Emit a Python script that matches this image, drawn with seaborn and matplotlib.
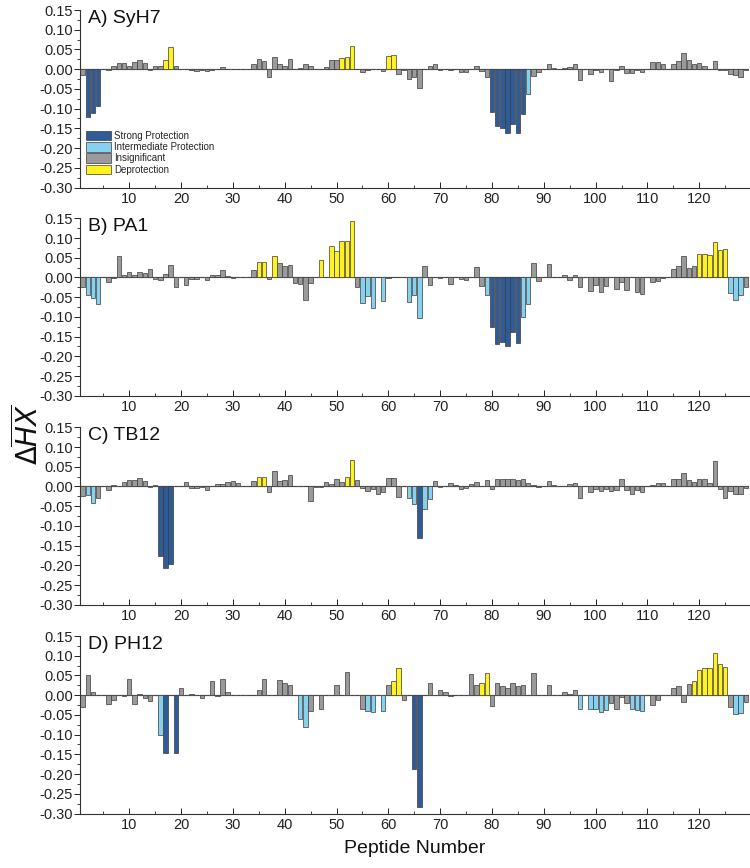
import numpy as np
import pandas as pd
import matplotlib
matplotlib.use("Agg")
import matplotlib.pyplot as plt
from matplotlib.ticker import MultipleLocator, FormatStrFormatter
import seaborn as sns

peptides = list(range(1, 130))
panel_titles = ["A) SyH7", "B) PA1", "C) TB12", "D) PH12"]
categories = ["Strong Protection", "Intermediate Protection", "Insignificant", "Deprotection"]
colors = ["#2F5C97", "#86D0F0", "#9A9A9A", "#FFF21F"]

syh7 = [-0.014, -0.121, -0.111, -0.093, 0, -0.001, 0.008, 0.015, 0.016, 0.007,
        0.019, 0.022, 0.016, -0.002, 0.009, 0.007, 0.022, 0.057, 0.007, 0,
        0.001, -0.003, -0.005, -0.003, -0.004, -0.002, 0, 0.006, 0, 0.001,
        0.001, 0, 0, 0.013, 0.027, 0.021, -0.019, 0.031, 0.013, 0.009,
        0.025, 0, 0.004, 0.012, 0.007, 0.001, 0, 0.006, 0.022, 0.022,
        0.028, 0.032, 0.058, 0, -0.006, -0.003, 0, 0, -0.004, 0.033,
        0.035, -0.011, -0.001, -0.026, -0.019, -0.047, 0, 0.008, 0.012, -0.002,
        0.001, -0.002, 0, -0.006, -0.008, 0, 0.009, -0.004, -0.019, -0.108,
        -0.145, -0.148, -0.161, -0.139, -0.161, -0.114, -0.064, -0.017, -0.006, 0,
        0.014, 0.004, 0, 0.004, 0.006, 0.014, -0.028, 0, -0.011, -0.001,
        -0.008, 0, -0.030, -0.002, 0.009, -0.010, -0.010, -0.003, -0.008, 0,
        0.019, 0.018, 0.012, 0, 0.014, 0.020, 0.040, 0.023, 0.013, 0.015,
        0.007, 0, 0.020, -0.003, -0.003, -0.011, -0.015, -0.020, -0.002]
pa1 = [-0.023, -0.044, -0.052, -0.067, 0, -0.012, -0.001, 0.055, 0.007, 0.013,
       0.007, 0.013, 0.011, 0.022, -0.003, -0.006, 0.009, 0.032, -0.025, 0,
       -0.020, -0.004, -0.004, 0, -0.006, 0.007, 0.007, 0.018, 0.004, -0.001,
       0.001, 0, 0, 0.018, 0.040, 0.040, -0.005, 0.055, 0.036, 0.028,
       0.032, -0.014, -0.017, -0.056, -0.014, 0, 0.044, 0, 0.080, 0.066,
       0.092, 0.092, 0.143, -0.024, -0.065, -0.046, -0.078, 0, -0.059, -0.002,
       0, 0.001, 0.001, -0.062, -0.045, -0.102, 0.029, -0.019, 0.001, -0.002,
       0.001, -0.016, 0.002, -0.004, -0.006, 0.001, 0.026, -0.021, -0.044, -0.126,
       -0.168, -0.163, -0.174, -0.138, -0.167, -0.100, -0.067, 0.036, -0.010, 0,
       0.034, 0, 0, 0.006, -0.006, 0.006, -0.024, 0, -0.035, -0.019,
       -0.036, -0.022, 0, -0.029, -0.012, -0.032, 0, -0.038, -0.042, 0,
       -0.012, -0.008, -0.002, 0, 0.021, 0.029, 0.055, 0.025, 0.029, 0.059,
       0.059, 0.056, 0.089, 0.069, 0.072, -0.040, -0.056, -0.044, -0.024]
tb12 = [-0.024, -0.022, -0.043, -0.028, 0, -0.008, 0.003, 0, 0.012, 0.016,
        0.017, 0.021, 0.013, -0.002, 0.003, -0.177, -0.206, -0.197, 0, 0,
        0.012, -0.003, -0.003, -0.001, -0.009, 0, 0.006, 0.006, 0.011, 0.015,
        0.010, 0, 0, 0.014, 0.025, 0.025, -0.013, 0.040, 0.014, 0.017,
        0.030, 0, 0.001, 0, -0.038, -0.001, -0.002, 0.011, 0.007, 0.019,
        0.011, 0.024, 0.068, 0.017, -0.005, -0.011, -0.006, -0.019, -0.015, 0.021,
        0.022, -0.026, 0, -0.028, -0.044, -0.130, -0.058, -0.031, 0.014, -0.002,
        0, 0.008, 0.004, -0.006, -0.005, 0.006, 0.012, 0, 0.017, -0.006,
        0.019, 0.019, 0.020, 0.019, 0.017, 0.018, 0.008, 0.004, -0.002, 0,
        0.013, 0.003, 0, 0.001, 0.006, 0.009, -0.030, 0, -0.013, -0.007,
        -0.012, -0.006, -0.011, -0.008, 0.018, -0.009, -0.019, -0.009, -0.014, 0,
        0.004, 0.008, 0.009, 0, 0.020, 0.018, 0.033, 0.016, 0.012, 0.018,
        0.020, 0.009, 0.064, -0.007, -0.028, -0.012, -0.018, -0.019, -0.005]
ph12 = [-0.029, 0.050, 0.009, 0, 0, -0.023, -0.011, 0, -0.003, 0.041,
        -0.023, 0.002, -0.008, -0.014, 0, -0.100, -0.146, 0, -0.146, 0.017,
        0, 0.002, 0, -0.006, 0, 0.037, -0.002, 0.040, 0.009, 0.001,
        0, 0, 0, 0.001, 0.014, 0.040, 0, 0, 0.038, 0.030,
        0.027, 0, -0.061, -0.080, -0.040, 0, -0.034, 0, 0, 0.025,
        0, 0.059, 0, 0, -0.034, -0.039, -0.042, 0, -0.039, 0.026,
        0.036, 0.068, -0.012, 0, -0.188, -0.283, 0, 0.030, 0, 0.012,
        0.007, -0.001, 0, 0.001, 0, 0.053, 0.027, 0.032, 0.056, -0.027,
        0.030, 0.022, 0.019, 0.030, 0.022, 0.025, 0.001, 0.056, 0, 0,
        0.027, 0, 0, 0.008, 0.003, 0.013, -0.035, 0, -0.035, -0.034,
        -0.042, -0.038, -0.020, -0.034, -0.004, -0.019, -0.036, -0.038, -0.040, 0,
        -0.024, -0.012, 0, 0, 0.019, 0.022, -0.017, 0.028, 0.036, 0.064,
        0.070, 0.068, 0.106, 0.078, 0.072, -0.031, -0.048, -0.045, -0.017]

strong = [[2, 3, 4, 80, 81, 82, 83, 84, 85, 86],
          [80, 81, 82, 83, 84, 85],
          [16, 17, 18, 66],
          [17, 19, 65, 66]]
intermediate = [[87],
                [2, 3, 4, 55, 56, 57, 59, 64, 65, 66, 79, 86, 87, 126, 127, 128],
                [2, 3, 64, 65, 67, 68],
                [16, 43, 44, 56, 57, 59, 97, 99, 100, 101, 102, 107, 108, 109, 127, 128]]
deprotection = [[17, 18, 51, 52, 53, 60, 61],
                [35, 36, 38, 47, 49, 50, 51, 52, 53, 120, 121, 122, 123, 124, 125],
                [35, 36, 52, 53],
                [61, 62, 78, 79, 119, 120, 121, 122, 123, 124, 125]]

series = [syh7, pa1, tb12, ph12]

sns.set_theme(style="white")
plt.rcParams["font.family"] = ["Liberation Sans", "DejaVu Sans"]
plt.rcParams["axes.unicode_minus"] = False

fig = plt.figure(figsize=(7.5, 8.68), dpi=100)
tops = [10, 218.3, 427.3, 636]
H = 868.0
ph = 177.5
left = 80 / 750
width = 669 / 750

for i in range(4):
    ax = fig.add_axes([left, 1 - (tops[i] + ph) / H, width, ph / H])
    cats = []
    for p in peptides:
        if p in strong[i]:
            cats.append(categories[0])
        elif p in intermediate[i]:
            cats.append(categories[1])
        elif p in deprotection[i]:
            cats.append(categories[3])
        else:
            cats.append(categories[2])
    df = pd.DataFrame({"peptide": peptides, "value": series[i], "category": cats})
    ax.axhline(0, color="#6a6a6a", lw=0.9, zorder=0)
    sns.barplot(data=df, x="peptide", y="value", hue="category",
                hue_order=categories, palette=dict(zip(categories, colors)),
                native_scale=True, dodge=False, width=0.86, saturation=1,
                edgecolor="#3a3a3a", linewidth=0.5, ax=ax, legend=(i == 0))
    ax.set_xlim(0.5, 129.6)
    ax.set_ylim(-0.30, 0.15)
    ax.yaxis.set_major_locator(MultipleLocator(0.05))
    ax.yaxis.set_minor_locator(MultipleLocator(0.025))
    ax.yaxis.set_major_formatter(FormatStrFormatter("%.2f"))
    ax.set_xticks(range(10, 121, 10))
    ax.xaxis.set_minor_locator(MultipleLocator(5))
    ax.set_xlabel("")
    ax.set_ylabel("")
    for s in ["top", "right"]:
        ax.spines[s].set_visible(False)
    for s in ["left", "bottom"]:
        ax.spines[s].set_color("#333333")
        ax.spines[s].set_linewidth(0.8)
    ax.tick_params(axis="y", which="major", direction="out", length=4, width=0.7,
                   labelsize=10.5, pad=1, left=True, colors="#222222")
    ax.tick_params(axis="y", which="minor", direction="out", length=2.5, width=0.6,
                   left=True, colors="#222222")
    ax.tick_params(axis="x", which="major", direction="in", length=4, width=0.7,
                   labelsize=10.5, pad=3, bottom=True, colors="#222222")
    ax.tick_params(axis="x", which="minor", direction="in", length=2.5, width=0.6,
                   bottom=True, colors="#222222")
    ax.text(0.012, 1.0, panel_titles[i], transform=ax.transAxes, fontsize=14,
            va="top", ha="left", color="#111111")
    if i == 0:
        handles, labels = ax.get_legend_handles_labels()
        ax.legend(handles, labels, loc="lower left", bbox_to_anchor=(0.0, 0.04),
                  frameon=False, fontsize=7, handlelength=2.6, handleheight=1.1,
                  labelspacing=0.12, handletextpad=0.3, borderaxespad=0.2)

fig.text(0.038, 0.5, r"$\Delta\overline{HX}$", rotation=90, fontsize=20,
         ha="center", va="center", color="#111111")
fig.text(left + width / 2, 0.013, "Peptide Number", fontsize=14,
         ha="center", va="bottom", color="#111111")

fig.savefig("out.png", dpi=100)
